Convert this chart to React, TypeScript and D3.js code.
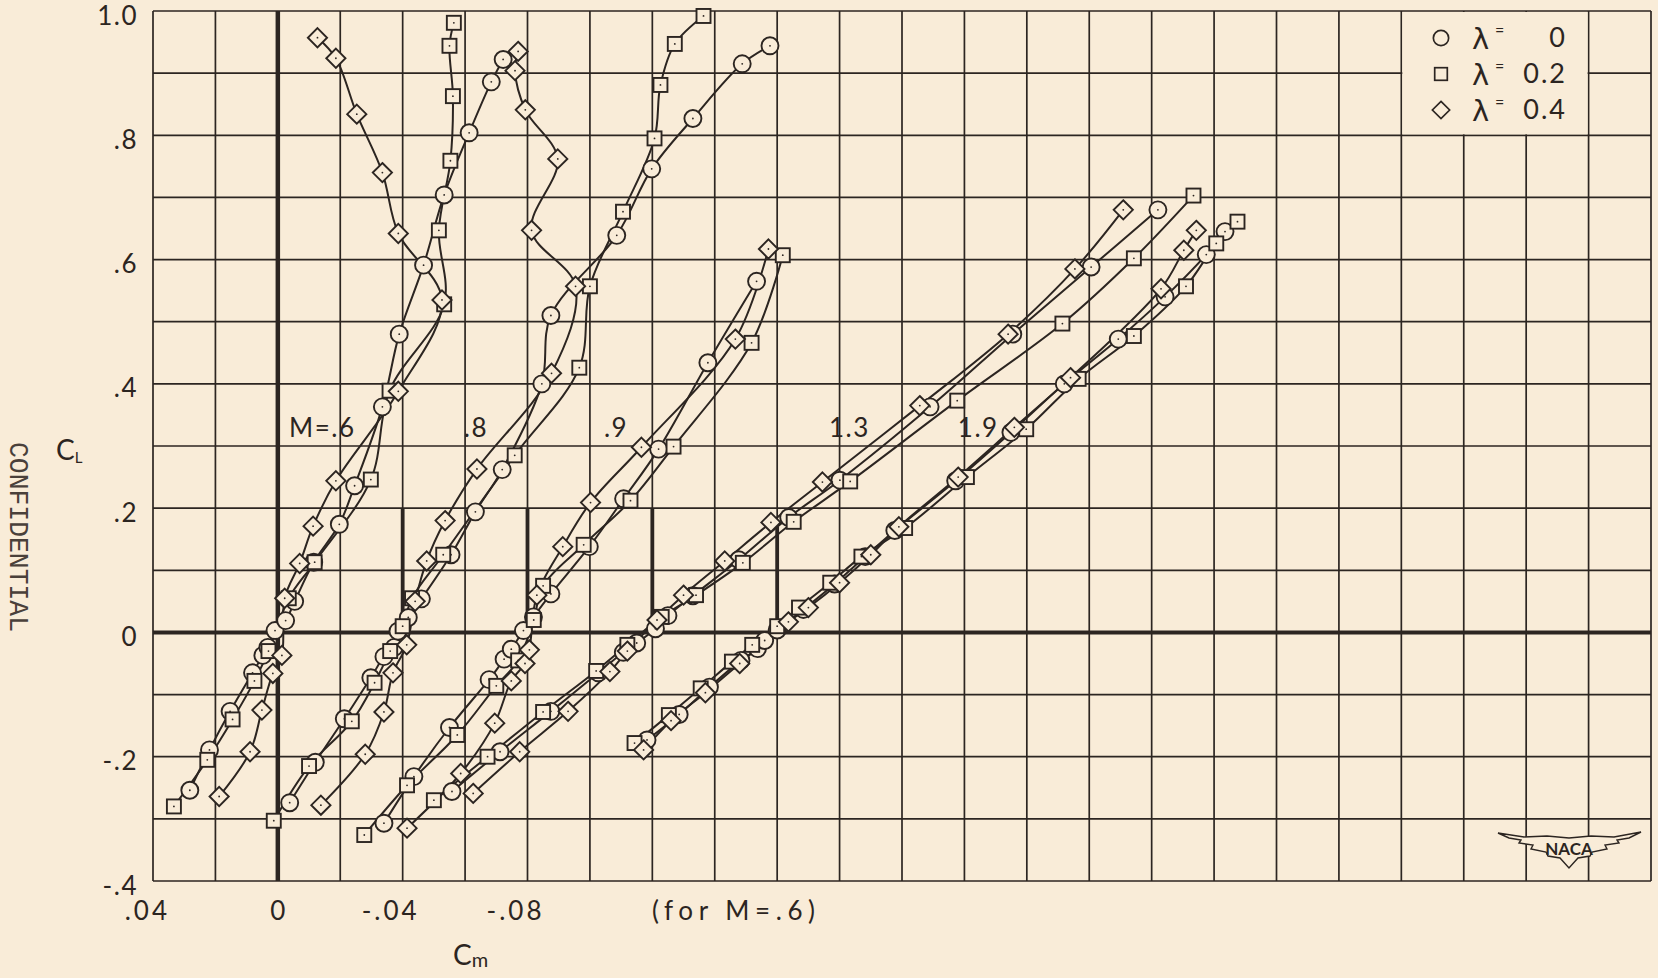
import * as React from 'react';
import * as d3 from 'd3';

// axis ticks (plotted Cm is the M=.6 scale, every other curve is slid over by machShift)
const cmTicks = [0.04, 0, -0.04, -0.08];
const cmTickLabels = ['.04', '0', '-.04', '-.08'];
const clTicks = [1.0, 0.8, 0.6, 0.4, 0.2, 0, -0.2, -0.4];
const clTickLabels = ['1.0', '.8', '.6', '.4', '.2', '0', '-.2', '-.4'];

const machNames = ['M=.6', '.8', '.9', '1.3', '1.9'];
const machShift = [0, -0.04, -0.08, -0.12, -0.16];
const refTop = [1.0, 0.2, 0.2, 0.2, 0.17];

const lambdas = ['0', '0.2', '0.4'];

// [CL, Cm]  -- Cm measured from each Mach number's own zero line
const M06_L0 = [[-0.254, 0.0282], [-0.189, 0.0219], [-0.127, 0.0153], [-0.065, 0.0081], [-0.037, 0.0048], [-0.024, 0.0032], [0.003, 0.0009], [0.019, -0.0025], [0.05, -0.0054], [0.113, -0.0115], [0.174, -0.0197], [0.236, -0.0246], [0.363, -0.0335], [0.48, -0.0389], [0.591, -0.0467], [0.704, -0.0533], [0.804, -0.0613], [0.886, -0.0684], [0.922, -0.0722]];
const M06_L2 = [[-0.28, 0.0333], [-0.205, 0.0226], [-0.14, 0.0145], [-0.078, 0.0075], [-0.03, 0.003], [0.055, -0.0035], [0.113, -0.0118], [0.246, -0.0298], [0.389, -0.0358], [0.528, -0.0533], [0.647, -0.0516], [0.759, -0.0553], [0.863, -0.0561], [0.944, -0.055], [0.981, -0.0564]];
const M06_L4 = [[-0.264, 0.0188], [-0.192, 0.0089], [-0.125, 0.0051], [-0.066, 0.0016], [-0.037, -0.0013], [0.055, -0.0022], [0.111, -0.007], [0.171, -0.0113], [0.244, -0.0186], [0.388, -0.0386], [0.535, -0.0526], [0.642, -0.0386], [0.74, -0.0335], [0.834, -0.0253], [0.924, -0.0186], [0.957, -0.0127]];

const M08_L0 = [[-0.274, 0.0362], [-0.209, 0.028], [-0.139, 0.0187], [-0.073, 0.0102], [-0.039, 0.006], [-0.024, 0.0027], [0.002, 0.0015], [0.024, -0.0018], [0.054, -0.006], [0.125, -0.0155], [0.194, -0.0233], [0.262, -0.0319], [0.4, -0.0446], [0.51, -0.0475], [0.639, -0.0686], [0.746, -0.0798], [0.827, -0.093], [0.915, -0.1088], [0.944, -0.1177]];
const M08_L2 = [[-0.303, 0.0413], [-0.215, 0.03], [-0.143, 0.0163], [-0.081, 0.009], [-0.03, 0.004], [0.01, 0.0], [0.055, -0.003], [0.125, -0.013], [0.285, -0.0359], [0.426, -0.0566], [0.557, -0.06], [0.677, -0.0706], [0.795, -0.0807], [0.881, -0.0826], [0.947, -0.0872], [0.992, -0.0964]];
const M08_L4 = [[-0.278, 0.0262], [-0.196, 0.012], [-0.128, 0.006], [-0.065, 0.0031], [-0.02, -0.0013], [0.05, -0.004], [0.115, -0.0077], [0.18, -0.0136], [0.263, -0.0238], [0.417, -0.0477], [0.557, -0.0554], [0.647, -0.0413], [0.762, -0.0497], [0.841, -0.0393], [0.904, -0.036], [0.935, -0.037]];

const M09_L0 = [[-0.307, 0.046], [-0.232, 0.0364], [-0.153, 0.025], [-0.076, 0.0123], [-0.043, 0.0075], [-0.027, 0.0052], [0.003, 0.0013], [0.025, -0.0019], [0.062, -0.0075], [0.138, -0.0198], [0.215, -0.0308], [0.295, -0.042], [0.434, -0.0578], [0.565, -0.0734]];
const M09_L2 = [[-0.326, 0.0523], [-0.246, 0.0386], [-0.165, 0.0225], [-0.086, 0.01], [-0.045, 0.003], [0.02, -0.002], [0.075, -0.005], [0.141, -0.018], [0.212, -0.033], [0.299, -0.0468], [0.466, -0.0718], [0.607, -0.0818]];
const M09_L4 = [[-0.315, 0.0386], [-0.227, 0.0214], [-0.146, 0.0105], [-0.078, 0.0052], [-0.05, 0.0008], [-0.028, -0.0006], [0.06, -0.003], [0.138, -0.0113], [0.209, -0.0202], [0.298, -0.0365], [0.472, -0.0666], [0.617, -0.0772]];

const M13_L0 = [[-0.256, 0.0642], [-0.192, 0.0488], [-0.127, 0.0325], [-0.065, 0.0173], [-0.032, 0.0093], [-0.017, 0.005], [0.006, -0.001], [0.027, -0.005], [0.059, -0.013], [0.117, -0.0277], [0.185, -0.0437], [0.245, -0.0601], [0.363, -0.089], [0.48, -0.1155], [0.588, -0.1406], [0.68, -0.162]];
const M13_L2 = [[-0.27, 0.07], [-0.2, 0.0528], [-0.128, 0.035], [-0.062, 0.018], [-0.02, 0.008], [0.025, -0.003], [0.06, -0.014], [0.112, -0.029], [0.178, -0.0453], [0.243, -0.0634], [0.373, -0.0977], [0.497, -0.1314], [0.602, -0.1543], [0.703, -0.1734]];
const M13_L4 = [[-0.259, 0.0574], [-0.192, 0.0425], [-0.127, 0.027], [-0.063, 0.0136], [-0.03, 0.008], [0.02, -0.0015], [0.06, -0.01], [0.115, -0.0232], [0.177, -0.038], [0.242, -0.0545], [0.365, -0.0857], [0.48, -0.114], [0.585, -0.1354], [0.68, -0.1509]];

const M19_L0 = [[-0.173, 0.0417], [-0.132, 0.0314], [-0.088, 0.0217], [-0.045, 0.0116], [-0.026, 0.0063], [-0.013, 0.004], [0.004, 0.0], [0.037, -0.0084], [0.078, -0.0184], [0.122, -0.0282], [0.164, -0.0377], [0.244, -0.0572], [0.322, -0.0749], [0.4, -0.092], [0.472, -0.1093], [0.54, -0.1243], [0.608, -0.1375], [0.645, -0.1435]];
const M19_L2 = [[-0.178, 0.0457], [-0.133, 0.0347], [-0.09, 0.0245], [-0.047, 0.0145], [-0.02, 0.008], [0.01, 0.0], [0.04, -0.007], [0.08, -0.017], [0.122, -0.027], [0.168, -0.041], [0.25, -0.0608], [0.327, -0.0798], [0.408, -0.0966], [0.477, -0.1143], [0.557, -0.131], [0.626, -0.1407], [0.661, -0.1475]];
const M19_L4 = [[-0.189, 0.0428], [-0.142, 0.034], [-0.097, 0.023], [-0.05, 0.012], [0.017, -0.0036], [0.04, -0.01], [0.08, -0.02], [0.125, -0.03], [0.17, -0.039], [0.25, -0.058], [0.33, -0.076], [0.41, -0.094], [0.553, -0.123], [0.615, -0.1303], [0.647, -0.1343]];

const runs = [
  [M06_L0, M06_L2, M06_L4],
  [M08_L0, M08_L2, M08_L4],
  [M09_L0, M09_L2, M09_L4],
  [M13_L0, M13_L2, M13_L4],
  [M19_L0, M19_L2, M19_L4],
];
const shapes = ['circle', 'square', 'diamond'];

const ink = '#2c2521';
const paper = '#f9ecd8';
const font = "Lato, 'Liberation Sans', sans-serif";

function Marker({ shape, cx, cy, dot = true, s = 1, sw = 1.9 }: any) {
  let body;
  if (shape === 'circle') body = <circle cx={cx} cy={cy} r={8.5 * s} />;
  else if (shape === 'square') body = <rect x={cx - 7 * s} y={cy - 7 * s} width={14 * s} height={14 * s} />;
  else body = <path d={`M${cx},${cy - 9.6 * s}L${cx + 9.6 * s},${cy}L${cx},${cy + 9.6 * s}L${cx - 9.6 * s},${cy}Z`} />;
  return (
    <g fill={paper} stroke={ink} strokeWidth={sw}>
      {body}
      {dot && <circle cx={cx} cy={cy} r={0.9} fill={ink} stroke="none" />}
    </g>
  );
}

export default function App() {
  const x = d3.scaleLinear().domain([0.04, -0.44]).range([153, 1651]);
  const y = d3.scaleLinear().domain([-0.4, 1.0]).range([881, 11]);

  const gridCm = d3.range(25).map((i) => 0.04 - 0.02 * i);
  const gridCl = d3.range(15).map((i) => -0.4 + 0.1 * i);

  const line = d3
    .line<number[]>()
    .x((d) => d[0])
    .y((d) => d[1])
    .curve(d3.curveCatmullRom.alpha(0.5));

  // where the Mach labels sit, in plotted Cm
  const machLabelCm = [-0.0036, -0.0596, -0.1045, -0.1766, -0.2179];
  const machLabelCl = 0.3145;

  const legendX = 1441;
  const legendRows = [38, 74, 110];

  const px = (m: number, p: number[]) => [x(p[1] + machShift[m]), y(p[0])];

  return (
    <svg
      width={1658}
      height={978}
      style={{ position: 'absolute', left: 0, top: 0, display: 'block' }}
    >
      <rect width={1658} height={978} fill={paper} />

      {/* grid */}
      <g stroke={ink} strokeWidth={1.7}>
        {gridCm.map((c, i) => (
          <line key={'v' + i} x1={x(c)} x2={x(c)} y1={y(1.0)} y2={y(-0.4)} />
        ))}
        {gridCl.map((c, i) => (
          <line key={'h' + i} x1={x(0.04)} x2={x(-0.44)} y1={y(c)} y2={y(c)} />
        ))}
      </g>
      {/* legend box clears the grid inside it */}
      <rect
        x={x(-0.36) + 1}
        y={y(1.0) + 1}
        width={x(-0.42) - x(-0.36) - 2}
        height={y(0.8) - y(1.0) - 2}
        fill={paper}
      />

      {/* heavy reference lines */}
      <line x1={x(0.04)} x2={x(-0.44)} y1={y(0)} y2={y(0)} stroke={ink} strokeWidth={4} />
      <line x1={x(0)} x2={x(0)} y1={y(1.0)} y2={y(-0.4)} stroke={ink} strokeWidth={4.5} />
      {machShift.slice(1).map((s, i) => (
        <line key={'r' + i} x1={x(s)} x2={x(s)} y1={y(0)} y2={y(refTop[i + 1])} stroke={ink} strokeWidth={3.8} />
      ))}

      {/* curves */}
      <g fill="none" stroke={ink} strokeWidth={2}>
        {runs.map((set, m) =>
          set.map((pts, k) => <path key={m + '-' + k} d={line(pts.map((p) => px(m, p))) || ''} />)
        )}
      </g>
      {runs.map((set, m) =>
        set.map((pts, k) =>
          pts.map((p, j) => {
            const [cx, cy] = px(m, p);
            return <Marker key={m + '-' + k + '-' + j} shape={shapes[k]} cx={cx} cy={cy} />;
          })
        )
      )}

      {/* Mach labels */}
      <g fontFamily={font} fontSize={26} fill={ink} letterSpacing={1.5}>
        {machNames.map((n, i) => (
          <text key={n} x={x(machLabelCm[i])} y={y(machLabelCl)}>
            {n}
          </text>
        ))}
      </g>

      {/* tick labels */}
      <g fontFamily={font} fontSize={26} fill={ink}>
        {clTicks.map((v, i) => (
          <text key={'yl' + i} x={138} y={y(v) + 13.5} textAnchor="end" letterSpacing={1.5}>
            {clTickLabels[i]}
          </text>
        ))}
        {cmTicks.map((v, i) => (
          <text
            key={'xl' + i}
            x={v === 0 ? x(v) : x(v) + 17}
            y={920}
            textAnchor={v === 0 ? 'middle' : 'end'}
            letterSpacing={v === 0 ? 0 : 3}
          >
            {cmTickLabels[i]}
          </text>
        ))}
        <text x={652} y={920} textLength={163} lengthAdjust="spacing">
          (for M=.6)
        </text>
      </g>

      {/* axis titles */}
      <text x={453} y={965} fontFamily={font} fontSize={28} fill={ink}>
        C<tspan fontSize={20} dy={2}>m</tspan>
      </text>
      <text x={56} y={460} fontFamily={font} fontSize={28} fill={ink}>
        C<tspan fontSize={15} dy={3}>L</tspan>
      </text>
      <text
        transform="translate(10,537) rotate(90)"
        textAnchor="middle"
        fontFamily="'Liberation Mono', 'DejaVu Sans Mono', monospace"
        fontSize={27}
        textLength={190}
        lengthAdjust="spacingAndGlyphs"
        fill="#4a403a"
      >
        CONFIDENTIAL
      </text>

      {/* legend */}
      {lambdas.map((l, i) => (
        <g key={'lg' + i}>
          <Marker shape={shapes[i]} cx={legendX} cy={legendRows[i]} dot={false} s={0.9} sw={1.7} />
          <text x={1472} y={legendRows[i] + 11} fontFamily="'DejaVu Sans', sans-serif" fontSize={29} fill={ink}>
            λ
          </text>
          <text x={1495} y={legendRows[i] - 2} fontFamily={font} fontSize={16} fill={ink}>
            =
          </text>
          <text
            x={1567}
            y={legendRows[i] + 9}
            textAnchor="end"
            fontFamily={font}
            fontSize={27}
            letterSpacing={2}
            fill={ink}
          >
            {l}
          </text>
        </g>
      ))}

      {/* NACA wings */}
      <g transform="translate(1569,850)">
        <path
          d="M-71,-17L-45,-13L-22,-14L0,-12L22,-14L45,-13L72,-18L60,-12L48,-10L50,-7L36,-5L38,-1L23,2L21,6L9,8L0,18L-9,8L-21,6L-23,2L-38,-1L-36,-5L-50,-7L-48,-10L-60,-12Z"
          fill={paper}
          stroke={ink}
          strokeWidth={1.4}
        />
        <text y={5} textAnchor="middle" fontFamily={font} fontWeight={700} fontSize={17} fill={ink}>
          NACA
        </text>
      </g>
    </svg>
  );
}
